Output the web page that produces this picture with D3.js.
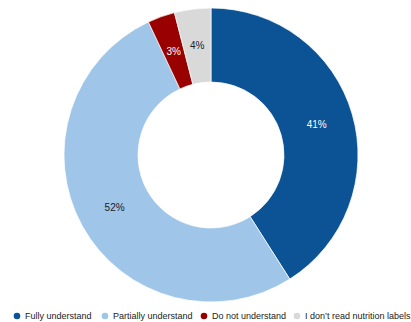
<!DOCTYPE html>
<html>
<head>
<meta charset="utf-8">
<script src="https://cdn.jsdelivr.net/npm/d3@7"></script>
<style>
  html, body { margin: 0; padding: 0; background: #fff; }
  svg { display: block; font-family: "Liberation Sans", Arial, sans-serif; }
</style>
</head>
<body>
<svg id="chart" width="411" height="322"></svg>
<script>
// Understanding of nutrition labels (share of respondents, %)
const categories = ["Fully understand", "Partially understand", "Do not understand", "I don\u2019t read nutrition labels"];
const shares = [41, 52, 3, 4];
const colors = ["#0b5394", "#9fc5e8", "#990000", "#d9d9d9"];
const labelColors = ["#ffffff", "#222222", "#ffffff", "#222222"];

const svg = d3.select("#chart");
const cx = 211, cy = 155, outerR = 147, innerR = 73;

const data = categories.map((c, i) => ({ name: c, value: shares[i], color: colors[i], lc: labelColors[i] }));

const pie = d3.pie().value(d => d.value).sort(null);
const arc = d3.arc().innerRadius(innerR).outerRadius(outerR);
const labelArc = d3.arc().innerRadius(110).outerRadius(110);

const g = svg.append("g").attr("transform", `translate(${cx},${cy})`);
const arcs = pie(data);

g.selectAll("path")
  .data(arcs)
  .join("path")
  .attr("d", arc)
  .attr("fill", d => d.data.color)
  .attr("stroke", "#ffffff")
  .attr("stroke-width", 0.7);

g.selectAll("text")
  .data(arcs)
  .join("text")
  .attr("transform", d => `translate(${labelArc.centroid(d)})`)
  .attr("text-anchor", "middle")
  .attr("dominant-baseline", "central")
  .attr("font-size", 10)
  .attr("fill", d => d.data.lc)
  .text(d => d.data.value + "%");

// Legend along the bottom
const legendX = [17, 105, 204, 297];
const legend = svg.append("g").attr("transform", "translate(0,316)");
const items = legend.selectAll("g")
  .data(data)
  .join("g")
  .attr("transform", (d, i) => `translate(${legendX[i]},0)`);
items.append("circle").attr("r", 3.3).attr("fill", d => d.color);
items.append("text")
  .attr("x", 8)
  .attr("dominant-baseline", "central")
  .attr("font-size", 9)
  .attr("fill", "#222")
  .text(d => d.name);
</script>
</body>
</html>
